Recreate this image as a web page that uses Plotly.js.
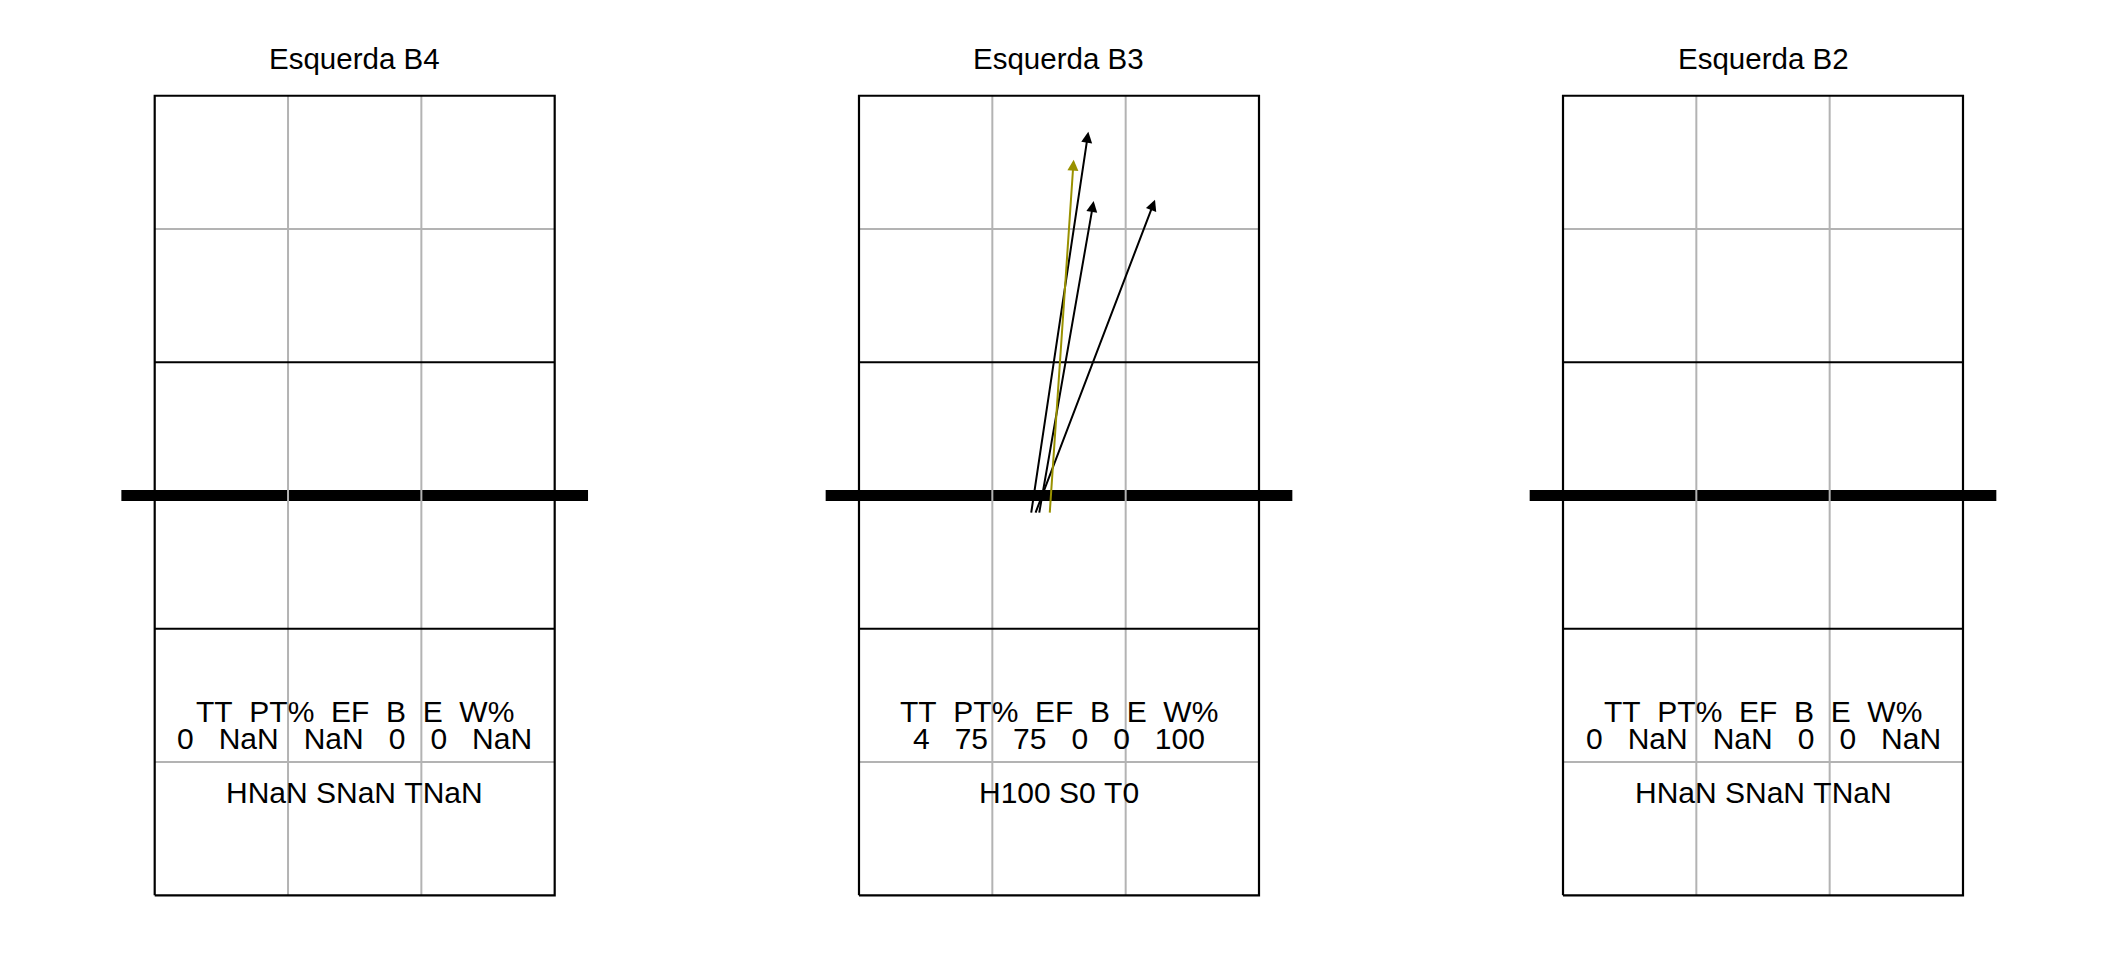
<!DOCTYPE html>
<html><head><meta charset="utf-8">
<script src="https://cdn.plot.ly/plotly-3.0.1.min.js"></script>
<style>html,body{margin:0;padding:0;background:#fff}</style>
</head><body>
<div id="chart" style="width:2112px;height:960px"></div>
<script>
// ---- data ----
const panelTitles = ["Esquerda B4", "Esquerda B3", "Esquerda B2"];
const statHeader = "TT  PT%  EF  B  E  W%";
const statTT = ["0", "4", "0"];
const statPT = ["NaN", "75", "NaN"];
const statEF = ["NaN", "75", "NaN"];
const statB = ["0", "0", "0"];
const statE = ["0", "0", "0"];
const statW = ["NaN", "100", "NaN"];
const statH = ["NaN", "100", "NaN"];
const statS = ["NaN", "0", "NaN"];
const statT = ["NaN", "0", "NaN"];

// attack arrows
const attackPanel = [1, 1, 1, 1];
const attackStartX = [1.79, 1.82, 1.85, 1.93];
const attackStartY = [3.36, 3.36, 3.36, 3.36];
const attackEndX = [2.22, 2.72, 2.26, 2.11];
const attackEndY = [6.23, 5.72, 5.71, 6.02];
const attackColor = ["#000000", "#000000", "#000000", "#999100"];

// court geometry
const courtX = [0.5, 3.5];
const courtY = [0.5, 6.5];
const zoneX = [1.5, 2.5];
const zoneY = [1.5, 5.5];
const attackLineY = [2.5, 4.5];
const netY = 3.5;
const netX = [0.25, 3.75];

// ---- build ----
const FONT = "Liberation Sans, Arial, sans-serif";
const xDomains = [[0.05431, 0.28158], [0.38778, 0.61506], [0.72112, 0.94839]];
const yDomain = [0.05354, 0.91417];
const sp = s => s.replace(/ /g, "\u00A0");

const traces = [];
const annotations = [];
const layout = {
  width: 2112, height: 960,
  margin: {l: 0, r: 0, t: 0, b: 0},
  paper_bgcolor: "#ffffff", plot_bgcolor: "rgba(0,0,0,0)",
  showlegend: false,
  font: {family: FONT, color: "#000000"},
  annotations: annotations
};

for (let p = 0; p < 3; p++) {
  const sx = p === 0 ? "" : String(p + 1);
  const xa = "x" + sx, ya = "y" + sx;
  layout["xaxis" + sx] = {domain: xDomains[p], range: [0.2, 3.8], visible: false, fixedrange: true, anchor: ya};
  layout["yaxis" + sx] = {domain: yDomain, range: [0.4, 6.6], visible: false, fixedrange: true, anchor: xa};

  // net
  traces.push({type: "scatter", mode: "lines", xaxis: xa, yaxis: ya, hoverinfo: "skip",
    x: [netX[0], netX[1]], y: [netY, netY], line: {color: "#000000", width: 11}});

  // grey zone lines
  const gx = [], gy = [];
  zoneX.forEach(v => { gx.push(v, v, null); gy.push(courtY[0], courtY[1], null); });
  zoneY.forEach(v => { gx.push(courtX[0], courtX[1], null); gy.push(v, v, null); });
  traces.push({type: "scatter", mode: "lines", xaxis: xa, yaxis: ya, hoverinfo: "skip",
    x: gx, y: gy, line: {color: "#b3b3b3", width: 2}});

  // black court outline + attack lines
  const bx = [courtX[0], courtX[1], courtX[1], courtX[0], courtX[0], null];
  const by = [courtY[0], courtY[0], courtY[1], courtY[1], courtY[0], null];
  attackLineY.forEach(v => { bx.push(courtX[0], courtX[1], null); by.push(v, v, null); });
  traces.push({type: "scatter", mode: "lines", xaxis: xa, yaxis: ya, hoverinfo: "skip",
    x: bx, y: by, line: {color: "#000000", width: 2.2}});

  // title
  annotations.push({xref: "paper", yref: "paper",
    x: (xDomains[p][0] + xDomains[p][1]) / 2, y: 0.93875,
    xanchor: "center", yanchor: "middle", showarrow: false,
    text: panelTitles[p], font: {family: FONT, size: 29.5, color: "#000000"}});

  // stats
  const cx = (courtX[0] + courtX[1]) / 2;
  const line2 = [statTT[p], statPT[p], statEF[p], statB[p], statE[p], statW[p]].join("   ");
  const line3 = "H" + statH[p] + " S" + statS[p] + " T" + statT[p];
  [[statHeader, 1.877], [line2, 1.68], [line3, 1.274]].forEach(([t, yy]) => {
    annotations.push({xref: xa, yref: ya, x: cx, y: yy, xanchor: "center", yanchor: "middle",
      showarrow: false, text: sp(t), font: {family: FONT, size: 30, color: "#000000"}});
  });
}

// arrows
for (let i = 0; i < attackStartX.length; i++) {
  const p = attackPanel[i];
  const sx = p === 0 ? "" : String(p + 1);
  annotations.push({xref: "x" + sx, yref: "y" + sx, axref: "x" + sx, ayref: "y" + sx,
    x: attackEndX[i], y: attackEndY[i], ax: attackStartX[i], ay: attackStartY[i],
    text: "", showarrow: true, arrowhead: 2, arrowsize: 1.1, arrowwidth: 2,
    arrowcolor: attackColor[i], standoff: 0, startstandoff: 0});
}

Plotly.newPlot("chart", traces, layout, {staticPlot: true, displayModeBar: false});
</script>
</body></html>
